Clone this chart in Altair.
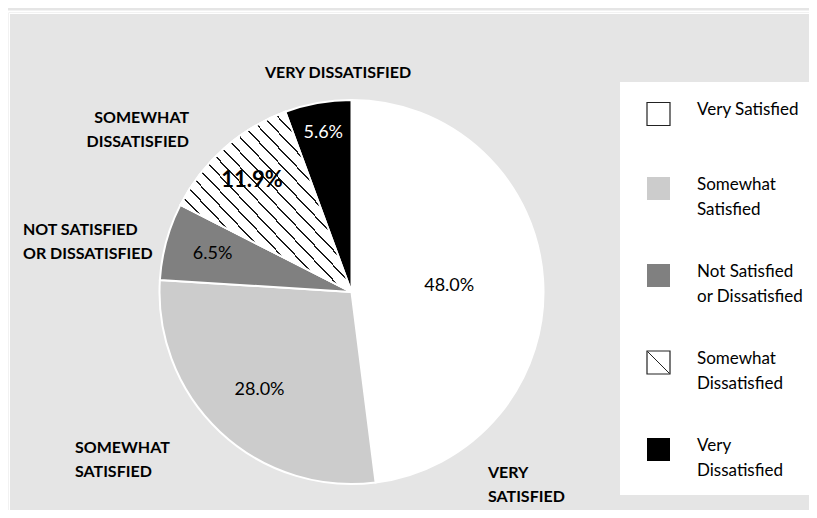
import altair as alt
import pandas as pd

# ---------------- data ----------------
categories = ["Very Satisfied", "Somewhat Satisfied", "Not Satisfied or Dissatisfied",
              "Somewhat Dissatisfied", "Very Dissatisfied"]
values = [48.0, 28.0, 6.5, 11.9, 5.6]
pct_labels = ["48.0%", "28.0%", "6.5%", "11.9%", "5.6%"]
legend_labels = ["Very Satisfied", "Somewhat\nSatisfied", "Not Satisfied\nor Dissatisfied",
                 "Somewhat\nDissatisfied", "Very\nDissatisfied"]
outer_labels = ["VERY\nSATISFIED", "SOMEWHAT\nSATISFIED", "NOT SATISFIED\nOR DISSATISFIED",
                "SOMEWHAT\nDISSATISFIED", "VERY DISSATISFIED"]

# ---------------- style ----------------
FONT = "Lato, Roboto, sans-serif"
fills = ["#ffffff", "#cccccc", "#808080", "#ffffff", "#000000"]
pct_colors = ["#000000", "#000000", "#000000", "#000000", "#ffffff"]
label_radius_frac = [0.51, 0.70, 0.75, 0.78, 0.84]
# annotation anchors (pixels) and alignment of the outer category labels
outer_x = [480, 67, 15, 181, 330]
outer_y = [464.5, 439.5, 222, 110, 65]
outer_align = ["left", "left", "left", "right", "center"]

W, H = 801, 502
CX, CY, R = 343.5, 284, 192
BG = "#e5e5e5"

# legend rows: stacked by number of text lines
LINE_H = 25
leg_y = []
prev_h = None
for lab in legend_labels:
    h = LINE_H * (lab.count("\n") + 1)
    leg_y.append(106 if prev_h is None else leg_y[-1] + (prev_h + h) / 2 + 37)
    prev_h = h

df = pd.DataFrame({
    "cat": categories, "value": values, "pct": pct_labels, "leg": legend_labels,
    "outer": outer_labels, "order": list(range(len(categories))),
    "tcol": pct_colors, "lrf": label_radius_frac,
    "ax": outer_x, "ay": outer_y, "al": outer_align, "ly": leg_y,
})

base = alt.Chart(df).transform_joinaggregate(
    total="sum(value)"
).transform_window(
    cum="sum(value)", sort=[alt.SortField("order")], frame=[None, 0]
).transform_calculate(
    t1="datum.cum / datum.total * 2 * PI",
    t0="(datum.cum - datum.value) / datum.total * 2 * PI",
).transform_calculate(
    tm="(datum.t0 + datum.t1) / 2",
    lr=f"datum.lrf * {R}",
    lty="datum.ly - 4",
    lines="split(datum.leg, '\\n')",
    olines="split(datum.outer, '\\n')",
)

color_scale = alt.Scale(domain=categories, range=fills)

# white frame
one = alt.Chart(pd.DataFrame({"k": [0]}))
frame = alt.layer(
    one.mark_rule(color="white", strokeWidth=2).encode(x=alt.value(-0.5), y=alt.value(3.5), y2=alt.value(H)),
    one.mark_rule(color="white", strokeWidth=2).encode(x=alt.value(0), x2=alt.value(W), y=alt.value(3.5)),
    one.mark_rule(color="white", strokeWidth=1).encode(x=alt.value(1.5), y=alt.value(5.5), y2=alt.value(H)),
    one.mark_rule(color="white", strokeWidth=1).encode(x=alt.value(1), x2=alt.value(W), y=alt.value(5.5)),
)

arcs = base.mark_arc(stroke="white", strokeWidth=2, radius=R).encode(
    theta=alt.Theta("t0:Q", scale=None),
    theta2="t1:Q",
    x=alt.value(CX), y=alt.value(CY),
    color=alt.Color("cat:N", scale=color_scale, legend=None),
)

# hatch for "Somewhat Dissatisfied" via striped linear gradient
n = 24
w = 0.0028
stops = [{"offset": 0, "color": "white"}]
for i in range(n):
    c = (i + 0.5) / n
    stops += [{"offset": c - w, "color": "white"}, {"offset": c - w, "color": "#1a1a1a"},
              {"offset": c + w, "color": "#1a1a1a"}, {"offset": c + w, "color": "white"}]
stops.append({"offset": 1, "color": "white"})
hatch_fill = {"gradient": "linear", "x1": 0, "y1": 1, "x2": 1, "y2": 0, "stops": stops}

hatch = base.transform_filter(alt.datum.cat == "Somewhat Dissatisfied").mark_arc(
    fill=hatch_fill, stroke="white", strokeWidth=2, radius=R
).encode(
    theta=alt.Theta("t0:Q", scale=None), theta2="t1:Q",
    x=alt.value(CX), y=alt.value(CY),
)

pct_normal = base.transform_filter(alt.datum.cat != "Somewhat Dissatisfied").mark_text(
    font=FONT, fontSize=18, baseline="middle", align="center"
).encode(
    theta=alt.Theta("tm:Q", scale=None), radius=alt.Radius("lr:Q", scale=None),
    x=alt.value(CX), y=alt.value(CY),
    text="pct:N", color=alt.Color("tcol:N", scale=None),
)
pct_bold = base.transform_filter(alt.datum.cat == "Somewhat Dissatisfied").mark_text(
    font=FONT, fontSize=22, fontWeight="bold", baseline="middle", align="center"
).encode(
    theta=alt.Theta("tm:Q", scale=None), radius=alt.Radius("lr:Q", scale=None),
    x=alt.value(CX), y=alt.value(CY),
    text="pct:N", color=alt.Color("tcol:N", scale=None),
)

outer_layers = []
for al in ["left", "right", "center"]:
    outer_layers.append(
        base.transform_filter(alt.datum.al == al).mark_text(
            font=FONT, fontSize=16, fontWeight="bold", align=al, baseline="middle",
            lineHeight=24, color="black"
        ).encode(
            x=alt.X("ax:Q", scale=None), y=alt.Y("ay:Q", scale=None), text="olines:N"
        )
    )

# legend
legend_box = one.mark_rect(color="white").encode(
    x=alt.value(612), x2=alt.value(W), y=alt.value(74), y2=alt.value(487)
)
leg_sq = base.mark_square(size=23 * 23, strokeWidth=1.2, opacity=1).encode(
    x=alt.value(650.5), y=alt.Y("ly:Q", scale=None),
    fill=alt.Fill("cat:N", scale=color_scale, legend=None),
    stroke=alt.condition(
        (alt.datum.cat == "Very Satisfied") | (alt.datum.cat == "Somewhat Dissatisfied"),
        alt.value("#222222"), alt.value(None)),
)
leg_hatch = base.transform_filter(alt.datum.cat == "Somewhat Dissatisfied").transform_calculate(
    ya="datum.ly - 11", yb="datum.ly + 11"
).mark_rule(color="#222222", strokeWidth=1).encode(
    x=alt.value(639.5), x2=alt.value(661.5),
    y=alt.Y("ya:Q", scale=None), y2="yb:Q",
)
leg_text = base.mark_text(
    font=FONT, fontSize=17, align="left", baseline="middle", lineHeight=LINE_H, color="black"
).encode(
    x=alt.value(689), y=alt.Y("lty:Q", scale=None), text="lines:N"
)

chart = alt.layer(
    frame, arcs, hatch, pct_normal, pct_bold, *outer_layers,
    legend_box, leg_sq, leg_hatch, leg_text,
).properties(
    width=W, height=H, padding=0, background=BG,
    autosize=alt.AutoSizeParams(type="none"),
).configure_view(stroke=None)

chart.save("out.html", embed_options={"renderer": "svg", "actions": False})
